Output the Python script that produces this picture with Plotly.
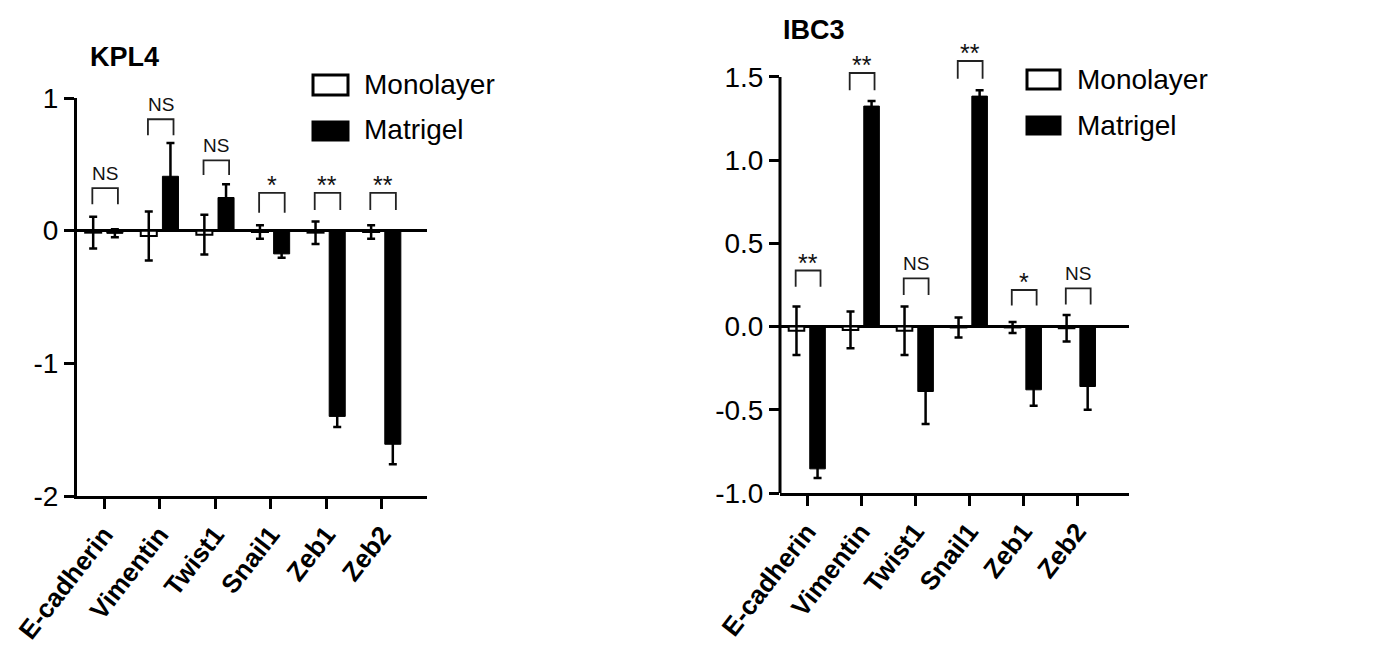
import plotly.graph_objects as go

# ---------------- data ----------------
genes = ["E-cadherin", "Vimentin", "Twist1", "Snail1", "Zeb1", "Zeb2"]

kpl4_mono = [-0.015, -0.04, -0.03, -0.01, -0.015, -0.01]
kpl4_mono_err = [0.12, 0.185, 0.15, 0.05, 0.085, 0.05]
kpl4_mat = [-0.02, 0.41, 0.25, -0.175, -1.40, -1.61]
kpl4_mat_err = [0.03, 0.25, 0.10, 0.03, 0.08, 0.15]
kpl4_sig = ["NS", "NS", "NS", "*", "**", "**"]
kpl4_br_top = [0.32, 0.84, 0.53, 0.285, 0.285, 0.285]
kpl4_br_arm = [0.20, 0.72, 0.42, 0.135, 0.155, 0.155]

ibc3_mono = [-0.025, -0.02, -0.025, -0.005, -0.005, -0.01]
ibc3_mono_err = [0.145, 0.11, 0.145, 0.06, 0.033, 0.08]
ibc3_mat = [-0.855, 1.325, -0.39, 1.385, -0.38, -0.36]
ibc3_mat_err = [0.055, 0.03, 0.195, 0.035, 0.095, 0.14]
ibc3_sig = ["**", "**", "NS", "**", "*", "NS"]
ibc3_br_top = [0.337, 1.524, 0.29, 1.596, 0.22, 0.23]
ibc3_br_arm = [0.24, 1.42, 0.19, 1.49, 0.127, 0.133]

kpl4_ticks = [-2, -1, 0, 1]
kpl4_ticktext = ["-2", "-1", "0", "1"]
ibc3_ticks = [-1.0, -0.5, 0.0, 0.5, 1.0, 1.5]
ibc3_ticktext = ["-1.0", "-0.5", "0.0", "0.5", "1.0", "1.5"]

FONT = "Liberation Sans, Arial, sans-serif"
W, H = 1386, 652
BR_L, BR_R = -0.21, 0.25

idx = list(range(len(genes)))
fig = go.Figure()


def add_panel(xa, ya, mono, mono_err, mat, mat_err, top, arm, sig):
    fig.add_trace(go.Bar(
        x=idx, y=mono, xaxis=xa, yaxis=ya, name="Monolayer", showlegend=False,
        marker=dict(color="white", line=dict(color="black", width=2)),
        error_y=dict(type="data", array=mono_err, visible=True, color="black",
                     thickness=2.5, width=4),
    ))
    fig.add_trace(go.Bar(
        x=idx, y=mat, xaxis=xa, yaxis=ya, name="Matrigel", showlegend=False,
        marker=dict(color="black", line=dict(color="black", width=1)),
        error_y=dict(type="data", array=mat_err, visible=True, color="black",
                     thickness=2.5, width=4),
    ))
    bx, by = [], []
    for i in idx:
        bx += [i + BR_L, i + BR_L, i + BR_R, i + BR_R, None]
        by += [arm[i], top[i], top[i], arm[i], None]
    fig.add_trace(go.Scatter(x=bx, y=by, xaxis=xa, yaxis=ya, mode="lines",
                             line=dict(color="#222222", width=1.8),
                             showlegend=False, hoverinfo="skip"))
    for i in idx:
        is_ns = sig[i] == "NS"
        fig.add_annotation(x=i + (BR_L + BR_R) / 2, y=top[i], xref=xa, yref=ya,
                           text=sig[i], showarrow=False, yanchor="bottom",
                           yshift=2 if is_ns else -8,
                           font=dict(family=FONT, size=19 if is_ns else 25,
                                     color="#111111"))


add_panel("x", "y", kpl4_mono, kpl4_mono_err, kpl4_mat, kpl4_mat_err,
          kpl4_br_top, kpl4_br_arm, kpl4_sig)
add_panel("x2", "y2", ibc3_mono, ibc3_mono_err, ibc3_mat, ibc3_mat_err,
          ibc3_br_top, ibc3_br_arm, ibc3_sig)

xcommon = dict(tickmode="array", tickvals=idx, ticktext=genes, tickangle=-52,
               showline=True, linecolor="black", linewidth=3, automargin=False,
               ticks="outside", ticklen=10, tickwidth=3, tickcolor="black",
               showgrid=False, zeroline=False,
               tickfont=dict(family=FONT, size=26, color="black", weight="bold"))
ycommon = dict(tickmode="array", ticks="outside", ticklen=10, tickwidth=3,
               tickcolor="black", showgrid=False, zeroline=True, automargin=False,
               zerolinecolor="black", zerolinewidth=3,
               tickfont=dict(family=FONT, size=28, color="black"))

fig.update_layout(
    template="none",
    width=W, height=H,
    margin=dict(l=0, r=0, t=0, b=0),
    paper_bgcolor="white", plot_bgcolor="white",
    barmode="group", bargap=0.22, bargroupgap=0.26,
    showlegend=False,
    xaxis=dict(domain=[77 / W, 427 / W], range=[-0.486, 5.81], anchor="y", **xcommon),
    yaxis=dict(domain=[1 - 496 / H, 1 - 98 / H], range=[-2, 1], anchor="x",
               tickvals=kpl4_ticks, ticktext=kpl4_ticktext,
               showline=True, linecolor="black", linewidth=3, **ycommon),
    xaxis2=dict(domain=[780 / W, 1129 / W], range=[-0.5, 5.96], anchor="y2", **xcommon),
    yaxis2=dict(domain=[1 - 493 / H, 1 - 57 / H], range=[-1, 1.62], anchor="x2",
                tickvals=ibc3_ticks, ticktext=ibc3_ticktext,
                showline=False, **ycommon),
)

# y-axis line of right panel (stops at 1.5 like the original)
fig.add_shape(type="line", xref="x2 domain", yref="y2", x0=0, x1=0, y0=-1, y1=1.5,
              line=dict(color="black", width=3))

# titles
fig.add_annotation(x=88 / W, y=1 - 57 / H, xref="paper", yref="paper", text="<b>KPL4</b>",
                   showarrow=False, xanchor="left", yanchor="middle",
                   font=dict(family=FONT, size=27, color="black"))
fig.add_annotation(x=781 / W, y=1 - 30 / H, xref="paper", yref="paper", text="<b>IBC3</b>",
                   showarrow=False, xanchor="left", yanchor="middle",
                   font=dict(family=FONT, size=27, color="black"))

# legends (drawn manually to match the large swatches)
legends = [
    dict(x0=313, x1=348, boxes=[(75, 95), (122, 140)], tx=362, ty=[84, 130]),
    dict(x0=1027, x1=1060, boxes=[(70, 89), (117, 134)], tx=1075, ty=[80, 125]),
]
leg_names = ["Monolayer", "Matrigel"]
leg_fill = ["white", "black"]
for lg in legends:
    for k in range(2):
        y0, y1 = lg["boxes"][k]
        fig.add_shape(type="rect", xref="paper", yref="paper",
                      x0=lg["x0"] / W, x1=lg["x1"] / W, y0=1 - y1 / H, y1=1 - y0 / H,
                      fillcolor=leg_fill[k], line=dict(color="black", width=3))
        fig.add_annotation(x=lg["tx"] / W, y=1 - lg["ty"][k] / H, xref="paper", yref="paper",
                           text=leg_names[k], showarrow=False, xanchor="left",
                           yanchor="middle",
                           font=dict(family=FONT, size=28, color="black"))

fig.write_html("out.html",
               config={"displayModeBar": False},
               post_script="document.body.style.margin='0';"
                           "document.body.style.overflow='hidden';")
